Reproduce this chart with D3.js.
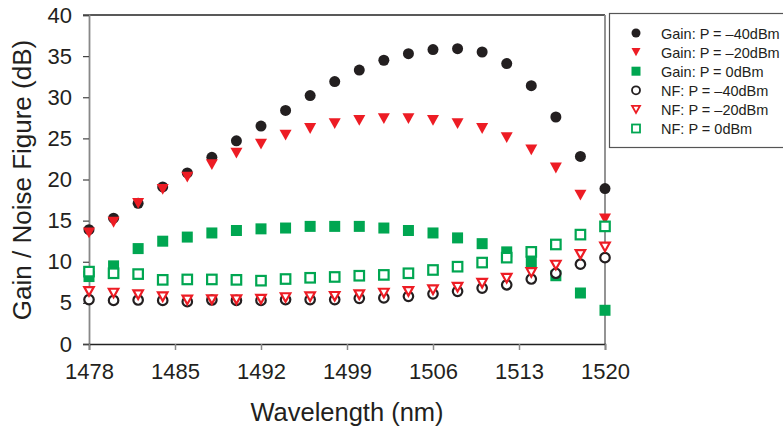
<!DOCTYPE html>
<html>
<head>
<meta charset="utf-8">
<script src="https://cdn.jsdelivr.net/npm/d3@7"></script>
<style>
  body { margin: 0; background: #fff; }
  svg { font-family: "Liberation Sans", Arial, sans-serif; }
</style>
</head>
<body>
<svg id="chart" width="783" height="433"></svg>
<script>
// wavelength points (nm)
var wavelengths = [1478, 1480, 1482, 1484, 1486, 1488, 1490, 1492, 1494, 1496, 1498,
                   1500, 1502, 1504, 1506, 1508, 1510, 1512, 1514, 1516, 1518, 1520];

var gain_m40 = [13.9, 15.3, 17.1, 19.1, 20.8, 22.7, 24.7, 26.5, 28.4, 30.2, 31.9,
                33.3, 34.5, 35.3, 35.8, 35.9, 35.5, 34.1, 31.4, 27.6, 22.8, 18.9];
var gain_m20 = [13.5, 14.8, 17.1, 18.8, 20.3, 21.8, 23.2, 24.3, 25.4, 26.2, 26.8,
                27.2, 27.4, 27.4, 27.2, 26.8, 26.2, 25.1, 23.6, 21.4, 18.1, 15.2];
var gain_0 = [8.2, 9.5, 11.6, 12.5, 13.0, 13.5, 13.8, 14.0, 14.1, 14.3, 14.3,
              14.3, 14.1, 13.8, 13.5, 12.9, 12.2, 11.2, 10.0, 8.3, 6.2, 4.1];
var nf_m40 = [5.4, 5.3, 5.35, 5.3, 5.15, 5.35, 5.3, 5.3, 5.4, 5.4, 5.4,
              5.55, 5.6, 5.8, 6.1, 6.4, 6.8, 7.2, 7.9, 8.6, 9.7, 10.5];
var nf_m20 = [6.4, 6.2, 6.0, 5.75, 5.35, 5.4, 5.4, 5.45, 5.65, 5.75, 5.8,
              6.0, 6.2, 6.4, 6.6, 6.9, 7.4, 8.0, 8.7, 9.6, 10.9, 11.8];
var nf_0 = [8.8, 8.6, 8.5, 7.8, 7.85, 7.85, 7.8, 7.7, 7.9, 8.05, 8.15,
            8.3, 8.4, 8.6, 9.0, 9.4, 9.9, 10.5, 11.2, 12.1, 13.3, 14.3];

var x_ticks = [1478, 1485, 1492, 1499, 1506, 1513, 1520];
var y_ticks = [0, 5, 10, 15, 20, 25, 30, 35, 40];

var black = '#231f20', red = '#ed1c24', green = '#00a651';

var series = [
  {name: 'Gain: P = \u201340dBm', values: gain_m40, shape: 'circle', color: black, open: false},
  {name: 'Gain: P = \u201320dBm', values: gain_m20, shape: 'triangle', color: red, open: false},
  {name: 'Gain: P = 0dBm', values: gain_0, shape: 'square', color: green, open: false},
  {name: 'NF: P = \u201340dBm', values: nf_m40, shape: 'circle', color: black, open: true},
  {name: 'NF: P = \u201320dBm', values: nf_m20, shape: 'triangle', color: red, open: true},
  {name: 'NF: P = 0dBm', values: nf_0, shape: 'square', color: green, open: true}
];

var plot_left = 89, plot_right = 605, plot_top = 15, plot_bottom = 344;

var x = d3.scaleLinear().domain([1478, 1520]).range([plot_left, plot_right]);
var y = d3.scaleLinear().domain([0, 40]).range([plot_bottom, plot_top]);

var svg = d3.select('#chart');

// frame
svg.append('line').attr('x1', plot_left - 6).attr('x2', plot_right).attr('y1', plot_top).attr('y2', plot_top)
   .attr('stroke', '#222').attr('stroke-width', 1.3);
svg.append('line').attr('x1', plot_right).attr('x2', plot_right).attr('y1', plot_top).attr('y2', plot_bottom)
   .attr('stroke', '#888').attr('stroke-width', 1.8);

var yAxis = svg.append('g')
   .attr('transform', 'translate(' + plot_left + ',0)')
   .call(d3.axisLeft(y).tickValues(y_ticks).tickSize(6).tickPadding(11));
yAxis.select('.domain').attr('stroke', '#888').attr('stroke-width', 1.8);
yAxis.selectAll('.tick line').attr('stroke', '#444').attr('stroke-width', 1.2);
yAxis.selectAll('text').attr('font-size', 22).attr('fill', '#231f20')
     .attr('font-family', '"Liberation Sans", Arial, sans-serif');

var xAxis = svg.append('g')
   .attr('transform', 'translate(0,' + plot_bottom + ')')
   .call(d3.axisBottom(x).tickValues(x_ticks).tickFormat(d3.format('d')).tickSize(6).tickPadding(13));
xAxis.select('.domain').attr('stroke', '#222').attr('stroke-width', 1.5);
xAxis.selectAll('.tick line').attr('stroke', '#888').attr('stroke-width', 1.5);
xAxis.selectAll('text').attr('font-size', 22).attr('fill', '#231f20')
     .attr('font-family', '"Liberation Sans", Arial, sans-serif');

// axis titles
svg.append('text').text('Wavelength (nm)')
   .attr('x', 347).attr('y', 421).attr('text-anchor', 'middle')
   .attr('font-size', 25.5).attr('fill', '#231f20');
svg.append('text').text('Gain / Noise Figure (dB)')
   .attr('transform', 'translate(31,180) rotate(-90)').attr('text-anchor', 'middle')
   .attr('font-size', 26).attr('fill', '#231f20');

function drawMarker(g, shape, s) {
  if (shape === 'circle') {
    return g.append('circle').attr('r', s / 2);
  } else if (shape === 'square') {
    return g.append('rect').attr('x', -s / 2).attr('y', -s / 2).attr('width', s).attr('height', s);
  } else {
    var h = s * 0.9;
    return g.append('path').attr('d', 'M' + (-s / 2) + ',' + (-h / 2) + 'L' + (s / 2) + ',' + (-h / 2) + 'L0,' + (h / 2) + 'Z');
  }
}

function styleMarker(m, d, open) {
  if (open) {
    m.attr('fill', '#fff').attr('stroke', d.color).attr('stroke-width', 2.2);
  } else {
    m.attr('fill', d.color).attr('stroke', 'none');
  }
}

series.forEach(function(d){
  var pts = svg.append('g').selectAll('g')
     .data(d.values)
     .enter()
     .append('g')
     .attr('transform', function(v, i){ return 'translate(' + x(wavelengths[i]) + ',' + y(v) + ')'; });
  pts.each(function(){
    var size = d.open ? 9.5 : (d.shape === 'triangle' ? 12 : 11);
    styleMarker(drawMarker(d3.select(this), d.shape, size), d, d.open);
  });
});

// legend
svg.append('rect').attr('x', 609.5).attr('y', 13.5).attr('width', 200).attr('height', 134)
   .attr('fill', 'none').attr('stroke', '#555').attr('stroke-width', 1.2);

var leg = svg.selectAll('g.legend')
   .data(series)
   .enter()
   .append('g')
   .attr('class', 'legend')
   .attr('transform', function(d, i){ return 'translate(636,' + (33 + i * 19.1) + ')'; });

leg.each(function(d){
  var g = d3.select(this);
  var size = d.open ? 8 : 9;
  styleMarker(drawMarker(g, d.shape, size), d, d.open);
  if (d.open) g.select('*').attr('stroke-width', 1.8);
});
leg.append('text').text(function(d){ return d.name; })
   .attr('x', 25).attr('y', 5.5)
   .attr('font-size', 14.5).attr('fill', '#231f20');
</script>
</body>
</html>
